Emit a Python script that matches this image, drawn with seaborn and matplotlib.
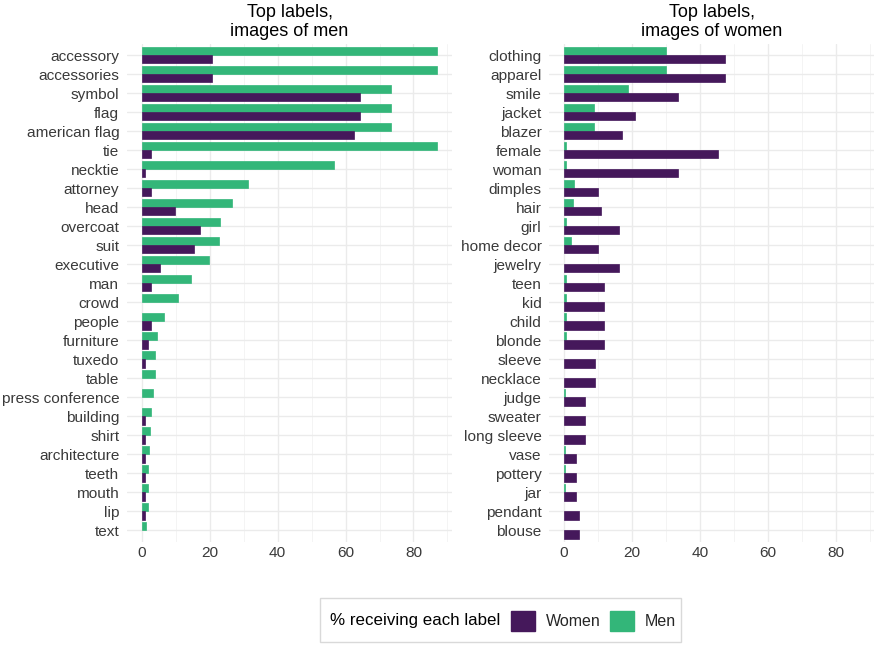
import numpy as np
import pandas as pd
import matplotlib
matplotlib.use("Agg")
import matplotlib.pyplot as plt
import matplotlib.patches as mpatches
import seaborn as sns

# data: % of images receiving each label
men_labels = ["accessory", "accessories", "symbol", "flag", "american flag", "tie",
              "necktie", "attorney", "head", "overcoat", "suit", "executive", "man",
              "crowd", "people", "furniture", "tuxedo", "table", "press conference",
              "building", "shirt", "architecture", "teeth", "mouth", "lip", "text"]
men_img_men = [86.8, 86.8, 73.4, 73.4, 73.4, 86.8, 56.6, 31.3, 26.5, 23.1, 22.8, 19.9,
               14.5, 10.6, 6.4, 4.5, 3.8, 3.8, 3.2, 2.65, 2.4, 2.1, 1.8, 1.8, 1.8, 1.2]
men_img_women = [20.7, 20.7, 64.4, 64.4, 62.5, 2.65, 0.9, 2.65, 9.8, 17.1, 15.3, 5.3,
                 2.65, np.nan, 2.65, 1.7, 0.9, np.nan, np.nan, 0.9, 0.9, 0.9, 0.9, 0.9,
                 0.9, np.nan]

women_labels = ["clothing", "apparel", "smile", "jacket", "blazer", "female", "woman",
                "dimples", "hair", "girl", "home decor", "jewelry", "teen", "kid", "child",
                "blonde", "sleeve", "necklace", "judge", "sweater", "long sleeve", "vase",
                "pottery", "jar", "pendant", "blouse"]
women_img_men = [30.0, 30.0, 18.8, 8.8, 8.8, 0.7, 0.7, 2.9, 2.6, 0.7, 2.0, np.nan, 0.7,
                 0.7, 0.7, 0.7, np.nan, np.nan, 0.3, np.nan, np.nan, 0.4, 0.4, 0.4,
                 np.nan, np.nan]
women_img_women = [47.3, 47.3, 33.6, 20.9, 17.2, 45.4, 33.6, 9.9, 10.8, 16.3, 9.9, 16.3,
                   11.7, 11.7, 11.7, 11.7, 9.05, 9.05, 6.3, 6.3, 6.3, 3.6, 3.6, 3.6, 4.5, 4.5]

groups = ["Men", "Women"]
colors = {"Men": "#33B679", "Women": "#45185B"}


def long_df(labels, men_vals, women_vals):
    df = pd.DataFrame({"label": labels, "Men": men_vals, "Women": women_vals})
    df = df.melt(id_vars="label", var_name="group", value_name="pct")
    return df.dropna()


sns.set_theme(style="whitegrid")
plt.rcParams["font.family"] = ["Liberation Sans", "DejaVu Sans"]

fig = plt.figure(figsize=(8.76, 6.45), dpi=100)
ax1 = fig.add_axes([0.145, 0.160, 0.371, 0.772])
ax2 = fig.add_axes([0.627, 0.160, 0.371, 0.772])

panels = [
    (ax1, men_labels, men_img_men, men_img_women, "Top labels,\nimages of men"),
    (ax2, women_labels, women_img_men, women_img_women, "Top labels,\nimages of women"),
]

for ax, labels, m, w, title in panels:
    df = long_df(labels, m, w)
    sns.barplot(data=df, x="pct", y="label", hue="group", order=labels,
                hue_order=groups, palette=colors, orient="h", width=0.86,
                errorbar=None, legend=False, ax=ax, linewidth=0.5,
                edgecolor=None, saturation=1)
    for patch in ax.patches:
        patch.set_edgecolor(patch.get_facecolor())
    ax.set_xlim(-4.35, 91.35)
    ax.set_ylim(len(labels) - 0.4, -0.6)
    ax.set_xticks([0, 20, 40, 60, 80])
    ax.set_xticks([10, 30, 50, 70, 90], minor=True)
    ax.set_xlabel("")
    ax.set_ylabel("")
    ax.grid(which="major", color="#EBEBEB", linewidth=1.0)
    ax.grid(which="minor", axis="x", color="#F2F2F2", linewidth=0.6)
    ax.set_axisbelow(True)
    for s in ax.spines.values():
        s.set_visible(False)
    ax.tick_params(axis="y", length=0, pad=5.5, labelsize=11.1, labelcolor="#3A3A3A")
    ax.tick_params(axis="x", which="both", length=0, pad=3, labelsize=11.1,
                   labelcolor="#3A3A3A")
    ax.set_title(title, fontsize=13, color="black", pad=6, linespacing=1.1)

# legend at the bottom, with its title on the left side
fig.patches.append(mpatches.Rectangle((320 / 876, 1 - 642 / 645), 361 / 876, 44 / 645,
                                      transform=fig.transFigure, fill=False,
                                      edgecolor="#D9D9D9", linewidth=1))
fig.text(330 / 876, 1 - 621 / 645, "% receiving each label", fontsize=12.2,
         va="center", ha="left", color="black")
handles = [mpatches.Patch(facecolor=colors[g], edgecolor=colors[g], label=g)
           for g in ["Women", "Men"]]
fig.legend(handles=handles, ncol=2, frameon=False, loc="center left",
           bbox_to_anchor=(497 / 876, 1 - 621 / 645), fontsize=11.5,
           handlelength=1.5, handleheight=1.5, handletextpad=0.65,
           columnspacing=0.6)

fig.savefig("out.png", dpi=100)
